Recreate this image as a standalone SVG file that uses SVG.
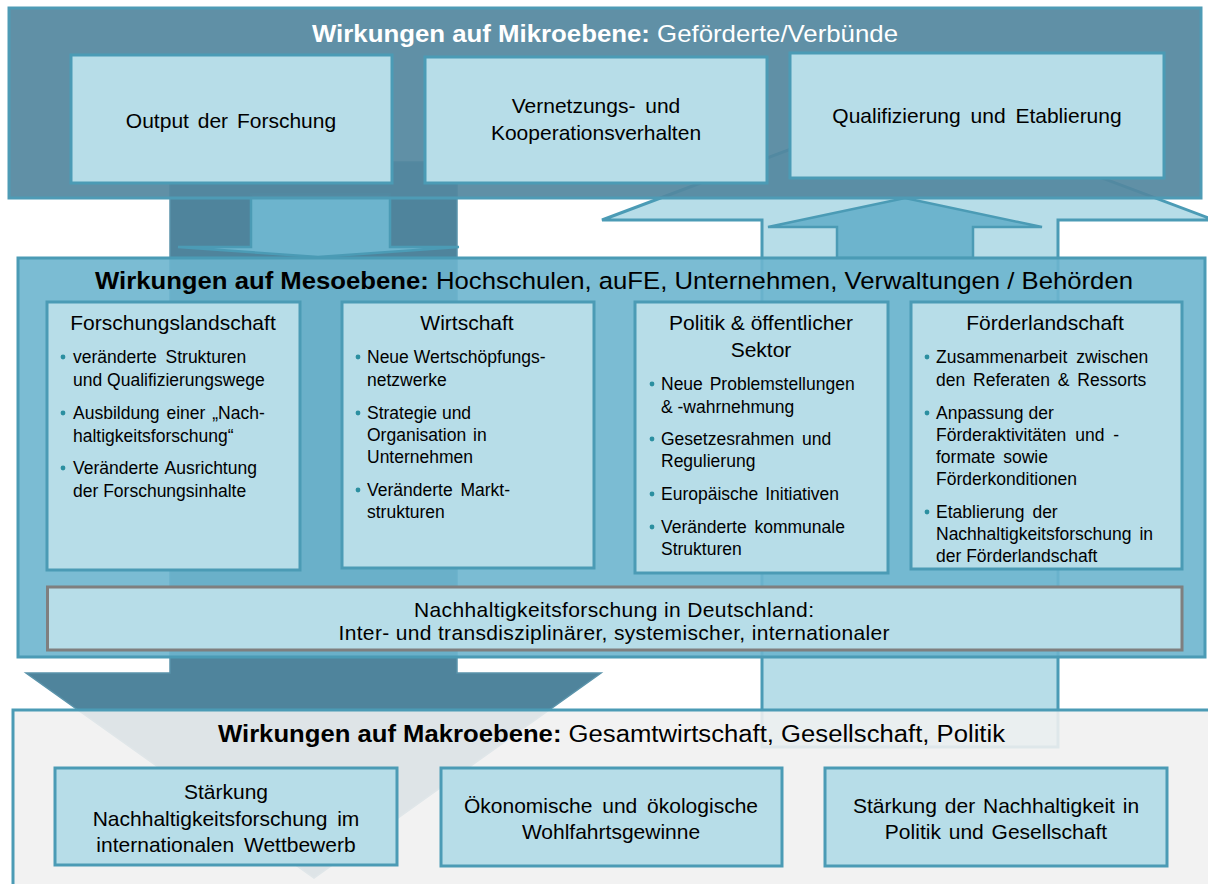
<svg xmlns="http://www.w3.org/2000/svg" width="1208" height="884" viewBox="0 0 1208 884">
<style>
.t{font-family:"Liberation Sans",Arial,sans-serif;fill:#000}
.box{fill:#b7dde8;stroke:#4b9bb5;stroke-width:3}
.bx{font-size:21px;text-anchor:middle}
.hd{font-size:21px;text-anchor:middle}
.bl{font-size:17.5px}
.dot{fill:#2b8fa0}
.title{font-size:24.5px}
.b{font-weight:bold}
</style>
<rect width="1208" height="884" fill="#ffffff"/>
<g id="connectors">
  <polygon points="170,162 457,162 457,673 601,673 314,878 26,673 170,673" fill="#4f849c" stroke="#5a93aa" stroke-width="1.5"/>
  <polygon points="762,747 1058,747 1058,220 1214,220 908,105 602,220 762,220" fill="#b7dde8" stroke="#4b9bb5" stroke-width="3"/>
  <polygon points="251,194 390,194 390,247 459,247 318,257 178,247 251,247" fill="#6db4cd" stroke="#4b9bb5" stroke-width="2.5"/>
  <polygon points="837,258 973,258 973,227 1042,227 905,198 768,227 837,227" fill="#6db4cd" stroke="#4b9bb5" stroke-width="2.5"/>
</g>
<g id="mikro">
  <rect x="9" y="8" width="1192" height="190" fill="#53879f" fill-opacity="0.926" stroke="#4e9bb5" stroke-width="3"/>
  <text class="t title" x="312" y="42" textLength="586" lengthAdjust="spacingAndGlyphs" style="fill:#ffffff"><tspan class="b" style="fill:#ffffff">Wirkungen auf Mikroebene:</tspan> Geförderte/Verbünde</text>
</g>
<g id="meso">
  <rect x="18" y="258" width="1187" height="399" fill="#6db5ce" fill-opacity="0.9" stroke="#4b9bb5" stroke-width="3"/>
  <text class="t title" x="95" y="289" textLength="1038" lengthAdjust="spacingAndGlyphs"><tspan class="b">Wirkungen auf Mesoebene:</tspan> Hochschulen, auFE, Unternehmen, Verwaltungen / Behörden</text>
</g>
<g id="makro">
  <rect x="13" y="710" width="1210" height="200" fill="#f0f0f0" fill-opacity="0.89" stroke="#4b9bb5" stroke-width="3"/>
  <text class="t" x="218" y="742" font-size="23.5" textLength="787" lengthAdjust="spacingAndGlyphs"><tspan class="b">Wirkungen auf Makroebene:</tspan> Gesamtwirtschaft, Gesellschaft, Politik</text>
</g>
<g id="output">
  <rect class="box" x="71" y="55" width="321" height="128"/>
  <text class="t bx" x="231" y="128" word-spacing="3">Output der Forschung</text>
</g>
<g id="vernetzung">
  <rect class="box" x="425" y="57" width="342" height="126"/>
  <text class="t bx" x="596" y="113" word-spacing="4">Vernetzungs- und</text>
  <text class="t bx" x="596" y="140">Kooperationsverhalten</text>
</g>
<g id="qualifizierung">
  <rect class="box" x="790" y="53" width="374" height="125"/>
  <text class="t bx" x="977" y="123" word-spacing="4">Qualifizierung und Etablierung</text>
</g>
<g id="forschungslandschaft">
  <rect class="box" x="47" y="302" width="253" height="268"/>
  <text class="t hd" x="173" y="330">Forschungslandschaft</text>
  <circle class="dot" cx="63" cy="357" r="2.4"/>
  <text class="t bl" x="73" y="363" word-spacing="4">veränderte Strukturen</text>
  <text class="t bl" x="73" y="386">und Qualifizierungswege</text>
  <circle class="dot" cx="63" cy="413" r="2.4"/>
  <text class="t bl" x="73" y="419" word-spacing="2">Ausbildung einer „Nach-</text>
  <text class="t bl" x="73" y="442">haltigkeitsforschung“</text>
  <circle class="dot" cx="63" cy="468" r="2.4"/>
  <text class="t bl" x="73" y="474" word-spacing="2">Veränderte Ausrichtung</text>
  <text class="t bl" x="73" y="497">der Forschungsinhalte</text>
</g>
<g id="wirtschaft">
  <rect class="box" x="342" y="302" width="252" height="266"/>
  <text class="t hd" x="467" y="330">Wirtschaft</text>
  <circle class="dot" cx="358" cy="357" r="2.4"/>
  <text class="t bl" x="367" y="363">Neue Wertschöpfungs-</text>
  <text class="t bl" x="367" y="386">netzwerke</text>
  <circle class="dot" cx="358" cy="413" r="2.4"/>
  <text class="t bl" x="367" y="419">Strategie und</text>
  <text class="t bl" x="367" y="441" word-spacing="2">Organisation in</text>
  <text class="t bl" x="367" y="463">Unternehmen</text>
  <circle class="dot" cx="358" cy="490" r="2.4"/>
  <text class="t bl" x="367" y="496" word-spacing="3">Veränderte Markt-</text>
  <text class="t bl" x="367" y="518">strukturen</text>
</g>
<g id="politik">
  <rect class="box" x="635" y="302" width="253" height="271"/>
  <text class="t hd" x="761" y="330">Politik &amp; öffentlicher</text>
  <text class="t hd" x="761" y="357">Sektor</text>
  <circle class="dot" cx="652" cy="384" r="2.4"/>
  <text class="t bl" x="661" y="390" word-spacing="2">Neue Problemstellungen</text>
  <text class="t bl" x="661" y="413">&amp; -wahrnehmung</text>
  <circle class="dot" cx="652" cy="439" r="2.4"/>
  <text class="t bl" x="661" y="445" word-spacing="3">Gesetzesrahmen und</text>
  <text class="t bl" x="661" y="467">Regulierung</text>
  <circle class="dot" cx="652" cy="494" r="2.4"/>
  <text class="t bl" x="661" y="500" word-spacing="2">Europäische Initiativen</text>
  <circle class="dot" cx="652" cy="527" r="2.4"/>
  <text class="t bl" x="661" y="533" word-spacing="3">Veränderte kommunale</text>
  <text class="t bl" x="661" y="555">Strukturen</text>
</g>
<g id="foerderlandschaft">
  <rect class="box" x="911" y="302" width="271" height="267"/>
  <text class="t hd" x="1045" y="330">Förderlandschaft</text>
  <circle class="dot" cx="927" cy="357" r="2.4"/>
  <text class="t bl" x="936" y="363" word-spacing="4">Zusammenarbeit zwischen</text>
  <text class="t bl" x="936" y="386" word-spacing="3">den Referaten &amp; Ressorts</text>
  <circle class="dot" cx="927" cy="413" r="2.4"/>
  <text class="t bl" x="936" y="419">Anpassung der</text>
  <text class="t bl" x="936" y="441" word-spacing="4">Förderaktivitäten und -</text>
  <text class="t bl" x="936" y="463" word-spacing="3">formate sowie</text>
  <text class="t bl" x="936" y="485">Förderkonditionen</text>
  <circle class="dot" cx="927" cy="512" r="2.4"/>
  <text class="t bl" x="936" y="518" word-spacing="3">Etablierung der</text>
  <text class="t bl" x="936" y="540" word-spacing="3">Nachhaltigkeitsforschung in</text>
  <text class="t bl" x="936" y="562">der Förderlandschaft</text>
</g>
<g id="nachhaltigkeitsforschung">
  <rect x="47.5" y="587" width="1134.5" height="63" fill="#b7dde8" stroke="#7f7f7f" stroke-width="3"/>
  <text class="t" x="614" y="617" font-size="21" text-anchor="middle" textLength="400" lengthAdjust="spacing">Nachhaltigkeitsforschung in Deutschland:</text>
  <text class="t" x="614" y="640" font-size="21" text-anchor="middle" textLength="551" lengthAdjust="spacing">Inter- und transdisziplinärer, systemischer, internationaler</text>
</g>
<g id="wettbewerb">
  <rect class="box" x="55" y="768" width="342" height="97"/>
  <text class="t bx" x="226" y="799">Stärkung</text>
  <text class="t bx" x="226" y="826" word-spacing="4">Nachhaltigkeitsforschung im</text>
  <text class="t bx" x="226" y="852" word-spacing="4">internationalen Wettbewerb</text>
</g>
<g id="wohlfahrt">
  <rect class="box" x="441" y="768" width="341" height="98"/>
  <text class="t bx" x="611" y="813" word-spacing="4">Ökonomische und ökologische</text>
  <text class="t bx" x="611" y="839">Wohlfahrtsgewinne</text>
</g>
<g id="politik-gesellschaft">
  <rect class="box" x="825" y="768" width="342" height="98"/>
  <text class="t bx" x="996" y="813" word-spacing="2">Stärkung der Nachhaltigkeit in</text>
  <text class="t bx" x="996" y="839" word-spacing="2">Politik und Gesellschaft</text>
</g>
</svg>
